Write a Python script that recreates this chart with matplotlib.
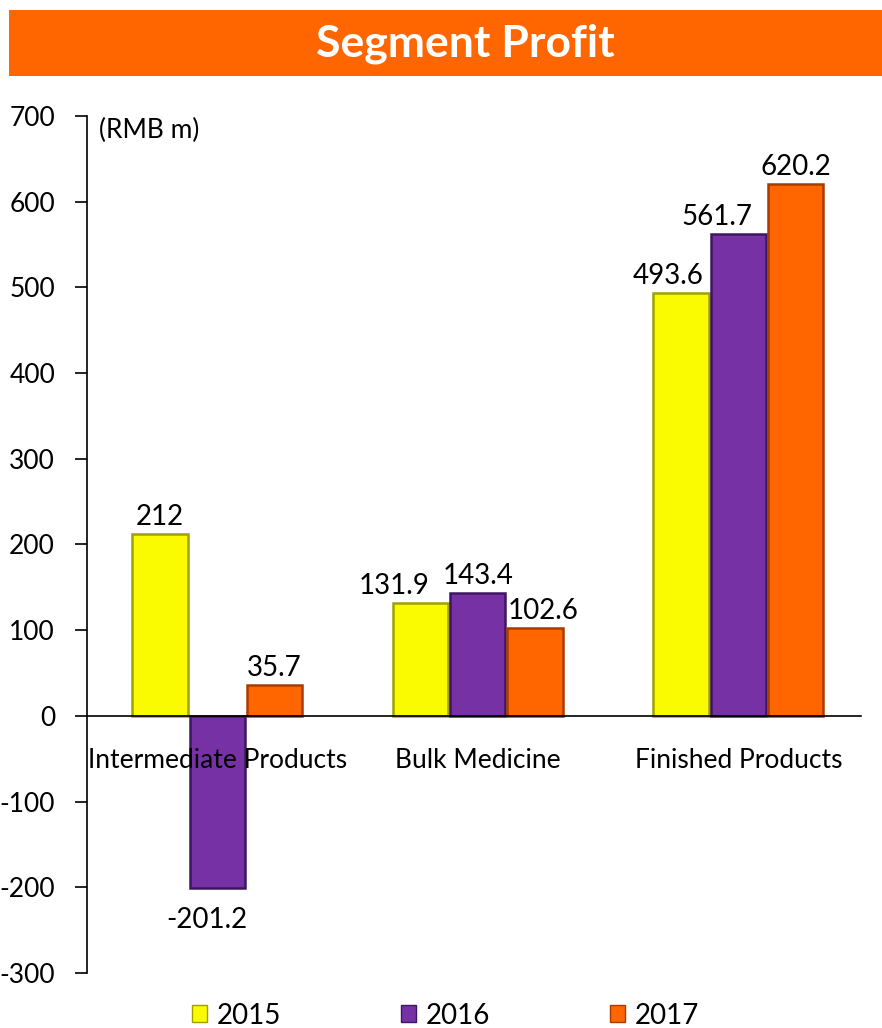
import matplotlib
matplotlib.use("Agg")
import matplotlib.pyplot as plt
import matplotlib.patches as mpatches
import numpy as np

plt.rcParams['font.family'] = ['Lato', 'DejaVu Sans']

categories = ["Intermediate Products", "Bulk Medicine", "Finished Products"]
years = ["2015", "2016", "2017"]
v2015 = [212, 131.9, 493.6]
v2016 = [-201.2, 143.4, 561.7]
v2017 = [35.7, 102.6, 620.2]
label_text_2015 = ["212", "131.9", "493.6"]
label_text_2016 = ["-201.2", "143.4", "561.7"]
label_text_2017 = ["35.7", "102.6", "620.2"]
yticks = [-300, -200, -100, 0, 100, 200, 300, 400, 500, 600, 700]

colors = ["#FAFA00", "#7632A5", "#FF6600"]
edges = ["#A0A000", "#3E1560", "#A83C00"]

fig = plt.figure(figsize=(8.82, 10.28), dpi=100)

# Title banner
fig.patches.append(mpatches.Rectangle((0.0102, 0.926), 0.99, 0.064,
                                      transform=fig.transFigure, facecolor="#FF6600",
                                      edgecolor="none", zorder=0))
fig.text(0.527, 0.957, "Segment Profit", ha="center", va="center",
         fontsize=32, fontweight="bold", color="white")

ax = fig.add_axes([0.0987, 0.0535, 0.886, 0.8337])
x = np.arange(len(categories))
w = 0.212
off = 0.22
series = [v2015, v2016, v2017]
texts = [label_text_2015, label_text_2016, label_text_2017]
# small horizontal nudges of data labels (in category units), as in the original
nudges = [[0.0, -0.10, -0.05], [-0.04, 0.0, -0.08], [0.0, 0.03, 0.0]]

for i, vals in enumerate(series):
    xs = x + (i - 1) * off
    ax.bar(xs, vals, width=w, color=colors[i], edgecolor=edges[i], linewidth=1.8,
           zorder=3, label=years[i])
    for j, v in enumerate(vals):
        if v >= 0:
            ax.text(xs[j] + nudges[i][j], v + 5, texts[i][j], ha="center", va="bottom",
                    fontsize=20, zorder=6)
        else:
            ax.text(xs[j] + nudges[i][j], v - 22, texts[i][j], ha="center", va="top",
                    fontsize=20, zorder=6)

for j, c in enumerate(categories):
    ax.text(x[j], -52, c, ha="center", va="center", fontsize=19, zorder=7)

ax.axhline(0, xmax=0.99, color="black", linewidth=1.2, zorder=5)
ax.set_xlim(-0.5, 2.5)
ax.set_ylim(-300, 700)
ax.set_yticks(yticks)
ax.set_yticklabels([str(t) for t in yticks], fontsize=19)
ax.tick_params(axis="y", direction="out", length=9, width=1.2, pad=14)
ax.set_xticks([])
for s in ["top", "right", "bottom"]:
    ax.spines[s].set_visible(False)
ax.spines["left"].set_linewidth(1.2)

ax.text(0.015, 0.983, "(RMB m)", transform=ax.transAxes, ha="left", va="center",
        fontsize=19)

handles = [mpatches.Patch(facecolor=colors[i], edgecolor=edges[i], label=years[i])
           for i in range(3)]
fig.legend(handles=handles, loc="center", bbox_to_anchor=(0.505, 0.012), ncol=3,
           frameon=False, fontsize=20, handlelength=0.55, handleheight=0.55,
           handletextpad=0.35, columnspacing=4.3)

fig.savefig("out.png", dpi=100)
